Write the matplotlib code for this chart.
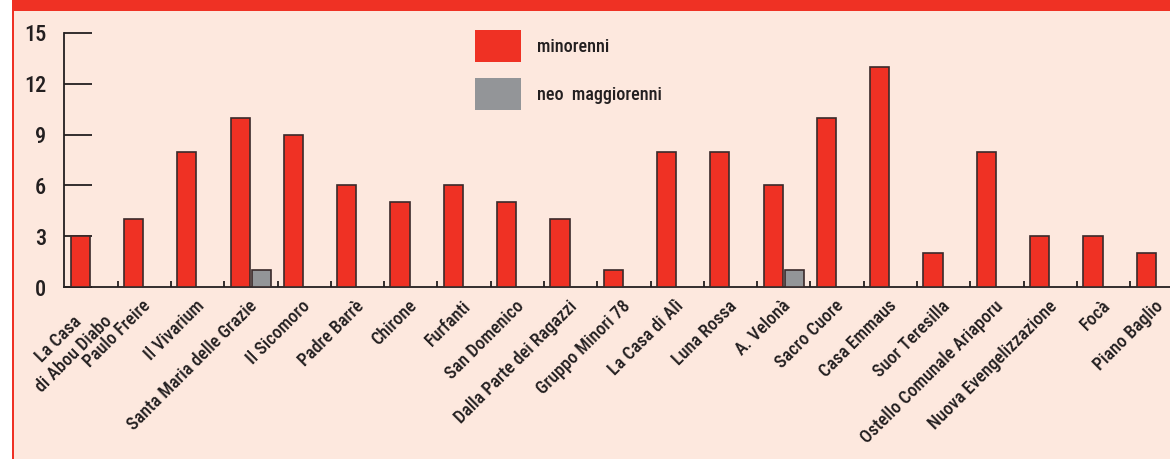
import matplotlib.pyplot as plt
from matplotlib.patches import Rectangle
from matplotlib import font_manager

# data
structures = ["La Casa\ndi Abou Diabo", "Paulo Freire", "Il Vivarium",
              "Santa Maria delle Grazie", "Il Sicomoro", "Padre Barrè",
              "Chirone", "Furfanti", "San Domenico", "Dalla Parte dei Ragazzi",
              "Gruppo Minori 78", "La Casa di Alì", "Luna Rossa", "A. Velonà",
              "Sacro Cuore", "Casa Emmaus", "Suor Teresilla",
              "Ostello Comunale Ariaporu", "Nuova Evengelizzazione", "Focà",
              "Piano Baglio"]
minorenni = [3, 4, 8, 10, 9, 6, 5, 6, 5, 4, 1, 8, 8, 6, 10, 13, 2, 8, 3, 3, 2]
neo_maggiorenni = [0, 0, 0, 1, 0, 0, 0, 0, 0, 0, 0, 0, 0, 1, 0, 0, 0, 0, 0, 0, 0]
y_ticks = [0, 3, 6, 9, 12, 15]

RED = "#ef3124"
GREY = "#939598"
BG = "#fde8de"
TEXT = "#231f20"

# pick a condensed face if there is one
names = {f.name for f in font_manager.fontManager.ttflist}
wanted = ['Roboto Condensed', 'Open Sans Condensed', 'Liberation Sans Narrow',
          'Lato', 'DejaVu Sans']
plt.rcParams['font.family'] = [f for f in wanted if f in names]
plt.rcParams['font.weight'] = 'medium'

fig = plt.figure(figsize=(11.7, 4.59), dpi=100)
fig.patch.set_facecolor("white")

# page decoration: background panel, red header band, red left rule
fig.patches.append(Rectangle((12 / 1170, 0), 1, 1, transform=fig.transFigure,
                             facecolor=BG, edgecolor="none", zorder=-3))
fig.patches.append(Rectangle((12 / 1170, 1 - 11 / 459), 1, 11 / 459,
                             transform=fig.transFigure, facecolor=RED,
                             edgecolor="none", zorder=-2))
fig.patches.append(Rectangle((11.5 / 1170, 0), 2.5 / 1170, 1,
                             transform=fig.transFigure, facecolor=RED,
                             edgecolor="none", zorder=-2))

ax = fig.add_axes([64.3 / 1170, 1 - 287.3 / 459, 1 - 64.3 / 1170,
                   (287.3 - 32.7) / 459])
ax.set_facecolor("none")

n = len(structures)
pos = list(range(n))
ax.bar([p + 0.30 for p in pos], minorenni, width=0.36, color=RED,
       edgecolor="#3a2a2a", linewidth=1.2, label="minorenni", zorder=3)
grey_x = [p + 0.70 for p, v in zip(pos, neo_maggiorenni) if v > 0]
grey_v = [v for v in neo_maggiorenni if v > 0]
ax.bar(grey_x, grey_v, width=0.36, color=GREY, edgecolor="#3a2a2a",
       linewidth=1.2, label="neo  maggiorenni", zorder=3)

ax.set_xlim(0, (1170 - 64.3) / 53.3)
ax.set_ylim(0, 15)

for s in ["top", "right"]:
    ax.spines[s].set_visible(False)
for s in ["left", "bottom"]:
    ax.spines[s].set_color(TEXT)
    ax.spines[s].set_linewidth(1.3)

ax.set_yticks(y_ticks)
ax.set_yticklabels([str(t) for t in y_ticks], fontsize=16, color=TEXT)
ax.tick_params(axis="y", direction="in", length=20, width=1.3,
               color=TEXT, pad=13)

ax.set_xticks(range(1, n))
ax.set_xticklabels([])
ax.tick_params(axis="x", which="major", direction="in", length=4.5,
               width=1.3, color=TEXT)
ax.set_xticks([p + 0.45 for p in pos], minor=True)
ax.set_xticklabels(structures, minor=True, rotation=45, ha="right",
                   rotation_mode="anchor", fontsize=13, color=TEXT,
                   multialignment="center")
ax.tick_params(axis="x", which="minor", length=0, pad=7)

fig.legend(loc="upper left", bbox_to_anchor=(475 / 1170, 1 - 30 / 459),
           frameon=False, fontsize=13, handlelength=2.55, handleheight=2.35,
           labelspacing=0.9, handletextpad=0.9, borderpad=0,
           borderaxespad=0, labelcolor=TEXT)
leg = fig.legends[0]
for h in leg.legend_handles:
    h.set_edgecolor("none")

fig.savefig("out.png", dpi=100, facecolor=fig.get_facecolor())
